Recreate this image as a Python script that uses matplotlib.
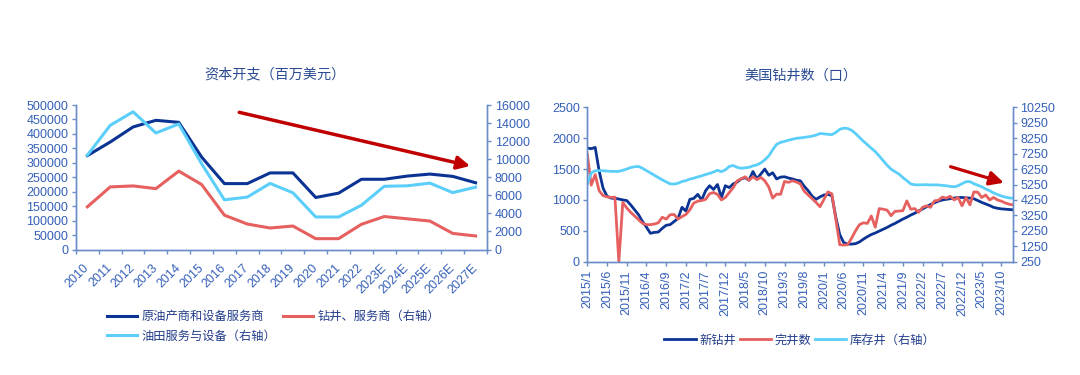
import matplotlib
matplotlib.use("Agg")
import matplotlib.pyplot as plt
import numpy as np
from matplotlib.ticker import FuncFormatter

plt.rcParams['font.family'] = ['Liberation Sans', 'Noto Sans CJK SC', 'DejaVu Sans']

# ---------------- data: left chart (capex) ----------------
years = ['2010', '2011', '2012', '2013', '2014', '2015', '2016', '2017', '2018',
         '2019', '2020', '2021', '2022', '2023E', '2024E', '2025E', '2026E', '2027E']
producers_capex = [325000, 372000, 424000, 447000, 440000, 320000, 228000, 228000, 265000,
                   265000, 180000, 195000, 243000, 243000, 254000, 261000, 253000, 231000]
drillers_capex = [4730, 6930, 7040, 6740, 8680, 7200, 3800, 2820, 2380,
                  2600, 1200, 1200, 2790, 3650, 3400, 3150, 1780, 1500]
oilfield_capex = [10450, 13750, 15250, 12900, 13900, 9500, 5500, 5800, 7320,
                  6280, 3600, 3600, 4900, 7000, 7050, 7350, 6300, 6900]

# ---------------- data: right chart (US wells), monthly 2015/1 - 2024/1 ----------------
new_drilled = [1840, 1830, 1850, 1470, 1190, 1060, 1030, 1025, 1015, 1000,
               990, 920, 840, 760, 650, 560, 460, 475, 480, 540,
               590, 600, 650, 700, 880, 820, 1010, 1025, 1090, 1000,
               1150, 1230, 1170, 1250, 1040, 1230, 1200, 1260, 1290, 1340,
               1360, 1320, 1460, 1340, 1420, 1500, 1400, 1440, 1340, 1370,
               1375, 1355, 1340, 1320, 1310, 1220, 1150, 1060, 1010, 1050,
               1080, 1090, 1070, 720, 440, 310, 285, 285, 292, 320,
               365, 405, 440, 465, 495, 525, 555, 590, 620, 655,
               690, 720, 755, 785, 820, 855, 890, 925, 955, 980,
               1000, 1010, 1020, 1030, 1040, 1040, 1035, 1030, 1020, 990,
               960, 935, 910, 880, 865, 855, 850, 845, 840]
completed = [1740, 1240, 1410, 1150, 1070, 1050, 1040, 1045, 0, 960,
             870, 800, 740, 680, 620, 600, 600, 610, 630, 720,
             690, 760, 765, 690, 730, 765, 840, 950, 980, 990,
             1010, 1100, 1120, 1090, 1000, 1040, 1120, 1200, 1310, 1340,
             1375, 1320, 1375, 1330, 1365, 1310, 1210, 1030, 1095, 1090,
             1300, 1285, 1310, 1290, 1260, 1140, 1080, 1020, 960, 890,
             1010, 1130, 1100, 690, 275, 270, 275, 380, 500, 600,
             630, 620, 740, 560, 860, 850, 835, 745, 815, 820,
             825, 985, 850, 860, 800, 880, 905, 880, 985, 995,
             1045, 1030, 1060, 1000, 1040, 905, 1040, 920, 1130, 1125,
             1040, 1080, 1000, 1040, 1000, 980, 950, 930, 920]
duc_wells = [5270, 6000, 6140, 6150, 6140, 6120, 6100, 6100, 6100, 6170,
             6250, 6350, 6400, 6420, 6300, 6150, 6000, 5850, 5700, 5550,
             5420, 5290, 5280, 5330, 5440, 5500, 5600, 5660, 5740, 5810,
             5900, 5970, 6060, 6170, 6080, 6200, 6420, 6480, 6360, 6300,
             6330, 6360, 6460, 6520, 6650, 6850, 7100, 7500, 7850, 7980,
             8040, 8120, 8180, 8240, 8270, 8300, 8340, 8380, 8450, 8550,
             8530, 8500, 8480, 8620, 8820, 8900, 8880, 8760, 8550, 8300,
             8050, 7830, 7600, 7380, 7100, 6800, 6500, 6250, 6080, 5930,
             5700, 5500, 5290, 5230, 5230, 5230, 5240, 5220, 5230, 5220,
             5190, 5170, 5130, 5100, 5170, 5300, 5430, 5440, 5300, 5200,
             5100, 4960, 4850, 4700, 4600, 4500, 4430, 4380, 4360]
month_ticklabels = ['2015/1', '2015/6', '2015/11', '2016/4', '2016/9', '2017/2', '2017/7',
                    '2017/12', '2018/5', '2018/10', '2019/3', '2019/8', '2020/1', '2020/6',
                    '2020/11', '2021/4', '2021/9', '2022/2', '2022/7', '2022/12', '2023/5',
                    '2023/10']

# ---------------- styles ----------------
DARK = '#0A3394'
LIGHT = '#5BCFFA'
RED = '#E5605F'
ARROW = '#C00000'
TICKC = '#3560B8'
SPINEC = '#6A8DC8'
TITLEC = '#2B4B93'
LEGC = '#233D8A'
FS = 9

W, H = 1080, 375
fig = plt.figure(figsize=(W / 100, H / 100), dpi=100)

intfmt = FuncFormatter(lambda v, p: f'{int(round(v))}')


def style_axes(a):
    for s in a.spines.values():
        s.set_color(SPINEC)
        s.set_linewidth(1.0)
    a.spines['top'].set_visible(False)
    a.tick_params(colors=SPINEC, labelcolor=TICKC, labelsize=FS, width=1.0, length=3, direction='out')


# ---------------- left chart ----------------
axL = fig.add_axes([76 / W, 1 - 249.5 / H, 411 / W, 144.5 / H])
axLr = axL.twinx()
xc = np.arange(len(years))
l_prod, = axL.plot(xc, producers_capex, color=DARK, lw=2.2, solid_joinstyle='round')
l_drill, = axLr.plot(xc, drillers_capex, color=RED, lw=2.2, solid_joinstyle='round')
l_oil, = axLr.plot(xc, oilfield_capex, color=LIGHT, lw=2.2, solid_joinstyle='round')

axL.set_xlim(-0.5, len(years) - 0.5)
axL.set_ylim(0, 500000)
axLr.set_ylim(0, 16000)
axL.set_yticks(np.arange(0, 500001, 50000))
axLr.set_yticks(np.arange(0, 16001, 2000))
axL.yaxis.set_major_formatter(intfmt)
axLr.yaxis.set_major_formatter(intfmt)
for a in (axL, axLr):
    style_axes(a)
axL.tick_params(axis='y', pad=2.5)
axLr.tick_params(axis='y', pad=2.5)
axL.set_xticks(xc)
axL.set_xticklabels(years, rotation=45, ha='right', va='center', rotation_mode='anchor')
axL.tick_params(axis='x', which='major', length=0, pad=12)
axL.set_xticks(np.arange(-0.5, len(years), 1), minor=True)
axL.tick_params(axis='x', which='minor', length=3, width=1.0, color=SPINEC, direction='out')

axL.annotate('', xy=(16.76, 289000), xytext=(6.65, 474600),
             arrowprops=dict(arrowstyle='-|>,head_length=0.55,head_width=0.28', color=ARROW,
                             lw=2.5, mutation_scale=14, shrinkA=0, shrinkB=0))

fig.text(275 / W, 1 - 74.5 / H, '资本开支（百万美元）', ha='center', va='center',
         fontsize=10.2, color=TITLEC)

fig.legend(handles=[l_prod, l_oil, l_drill],
           labels=['原油产商和设备服务商', '油田服务与设备（右轴）', '钻井、服务商（右轴）'],
           ncol=2, loc='upper left', bbox_to_anchor=(106.7 / W, 1 - 311 / H),
           frameon=False, fontsize=8.8, handlelength=2.5, handletextpad=0.36,
           columnspacing=0.5, labelspacing=0.62, borderpad=0, borderaxespad=0,
           labelcolor=LEGC)

# ---------------- right chart ----------------
axR = fig.add_axes([587.3 / W, 1 - 261.7 / H, 426 / W, 154.4 / H])
axRr = axR.twinx()
xm = np.arange(len(new_drilled))
r_new, = axR.plot(xm, new_drilled, color=DARK, lw=2.0, solid_joinstyle='round')
r_comp, = axR.plot(xm, completed, color=RED, lw=2.0, solid_joinstyle='round')
r_duc, = axRr.plot(xm, duc_wells, color=LIGHT, lw=2.0, solid_joinstyle='round')

axR.set_xlim(0, len(new_drilled) - 1)
axR.set_ylim(0, 2500)
axRr.set_ylim(250, 10250)
axR.set_yticks(np.arange(0, 2501, 500))
axRr.set_yticks(np.arange(250, 10251, 1000))
axR.yaxis.set_major_formatter(intfmt)
axRr.yaxis.set_major_formatter(intfmt)
for a in (axR, axRr):
    style_axes(a)
axR.tick_params(axis='y', pad=2.3)
axRr.tick_params(axis='y', pad=2.0)
axR.set_xticks(np.arange(0, 5 * len(month_ticklabels), 5))
axR.set_xticklabels(month_ticklabels, rotation=90)
axR.tick_params(axis='x', pad=3)

axR.annotate('', xy=(105.6, 1279), xytext=(92.1, 1538),
             arrowprops=dict(arrowstyle='-|>,head_length=0.6,head_width=0.3', color=ARROW,
                             lw=2.3, mutation_scale=14, shrinkA=0, shrinkB=0))

fig.text(800.5 / W, 1 - 75.5 / H, '美国钻井数（口）', ha='center', va='center',
         fontsize=10.2, color=TITLEC)

fig.legend(handles=[r_new, r_comp, r_duc], labels=['新钻井', '完井数', '库存井（右轴）'],
           ncol=3, loc='center', bbox_to_anchor=(800 / W, 1 - 340.5 / H),
           frameon=False, fontsize=8.8, handlelength=2.59, handletextpad=0.28,
           columnspacing=0.28, borderpad=0, borderaxespad=0, labelcolor=LEGC)

fig.savefig('out.png', dpi=100)
